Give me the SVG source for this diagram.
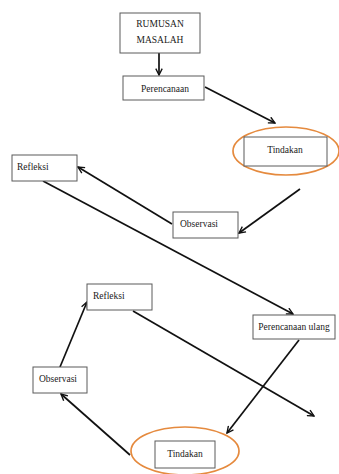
<svg xmlns="http://www.w3.org/2000/svg" width="339" height="474" viewBox="0 0 339 474">
<style>
.box{fill:#fff;stroke:#5a5a5a;stroke-width:1}
.t{font-family:"Liberation Serif","Times New Roman",serif;font-size:9.5px;fill:#1a1a1a}
.ell{fill:none;stroke:#e58a3e;stroke-width:1.7}
.c{stroke:#111;stroke-width:1.7;fill:none;marker-end:url(#ah)}
</style>
<defs>
<marker id="ah" viewBox="0 0 10 10" refX="9" refY="5" markerWidth="8" markerHeight="8" orient="auto" markerUnits="userSpaceOnUse">
<path d="M1,1 L9,5 L1,9" fill="none" stroke="#111" stroke-width="1.7"/>
</marker>
</defs>
<rect width="339" height="474" fill="#fff"/>
<g id="connectors">
<line class="c" x1="159" y1="53" x2="159" y2="75"/>
<line class="c" x1="205" y1="87" x2="275" y2="123"/>
<line class="c" x1="300" y1="189" x2="239" y2="233"/>
<line class="c" x1="172" y1="224" x2="78" y2="167"/>
<line class="c" x1="43" y1="181" x2="293" y2="314"/>
<line class="c" x1="60" y1="367" x2="87" y2="302"/>
<line class="c" x1="133" y1="311" x2="314" y2="416"/>
<line class="c" x1="299" y1="340" x2="227" y2="433"/>
<line class="c" x1="130" y1="455" x2="61" y2="394"/>
</g>
<g id="rumusan">
<rect class="box" x="120" y="13" width="80" height="40"/>
<text class="t" x="160" y="27" text-anchor="middle">RUMUSAN</text>
<text class="t" x="160" y="43" text-anchor="middle">MASALAH</text>
</g>
<g id="perencanaan">
<rect class="box" x="123" y="76" width="81" height="24"/>
<text class="t" x="165" y="92" text-anchor="middle">Perencanaan</text>
</g>
<g id="tindakan1">
<ellipse class="ell" cx="286" cy="151" rx="53" ry="24"/>
<rect class="box" x="244" y="137" width="83" height="29"/>
<text class="t" x="285" y="153" text-anchor="middle">Tindakan</text>
</g>
<g id="observasi1">
<rect class="box" x="173" y="212" width="65" height="26"/>
<text class="t" x="180" y="227">Observasi</text>
</g>
<g id="refleksi1">
<rect class="box" x="12" y="155" width="65" height="26"/>
<text class="t" x="17" y="170">Refleksi</text>
</g>
<g id="refleksi2">
<rect class="box" x="87" y="284" width="65" height="26"/>
<text class="t" x="93" y="299">Refleksi</text>
</g>
<g id="perencanaan-ulang">
<rect class="box" x="253" y="315" width="82" height="24"/>
<text class="t" x="294" y="330" text-anchor="middle">Perencanaan ulang</text>
</g>
<g id="observasi2">
<rect class="box" x="33" y="367" width="54" height="26"/>
<text class="t" x="39" y="382">Observasi</text>
</g>
<g id="tindakan2">
<ellipse class="ell" cx="185" cy="451" rx="54" ry="24"/>
<rect class="box" x="155" y="441" width="60" height="27"/>
<text class="t" x="185" y="457" text-anchor="middle">Tindakan</text>
</g>
</svg>
